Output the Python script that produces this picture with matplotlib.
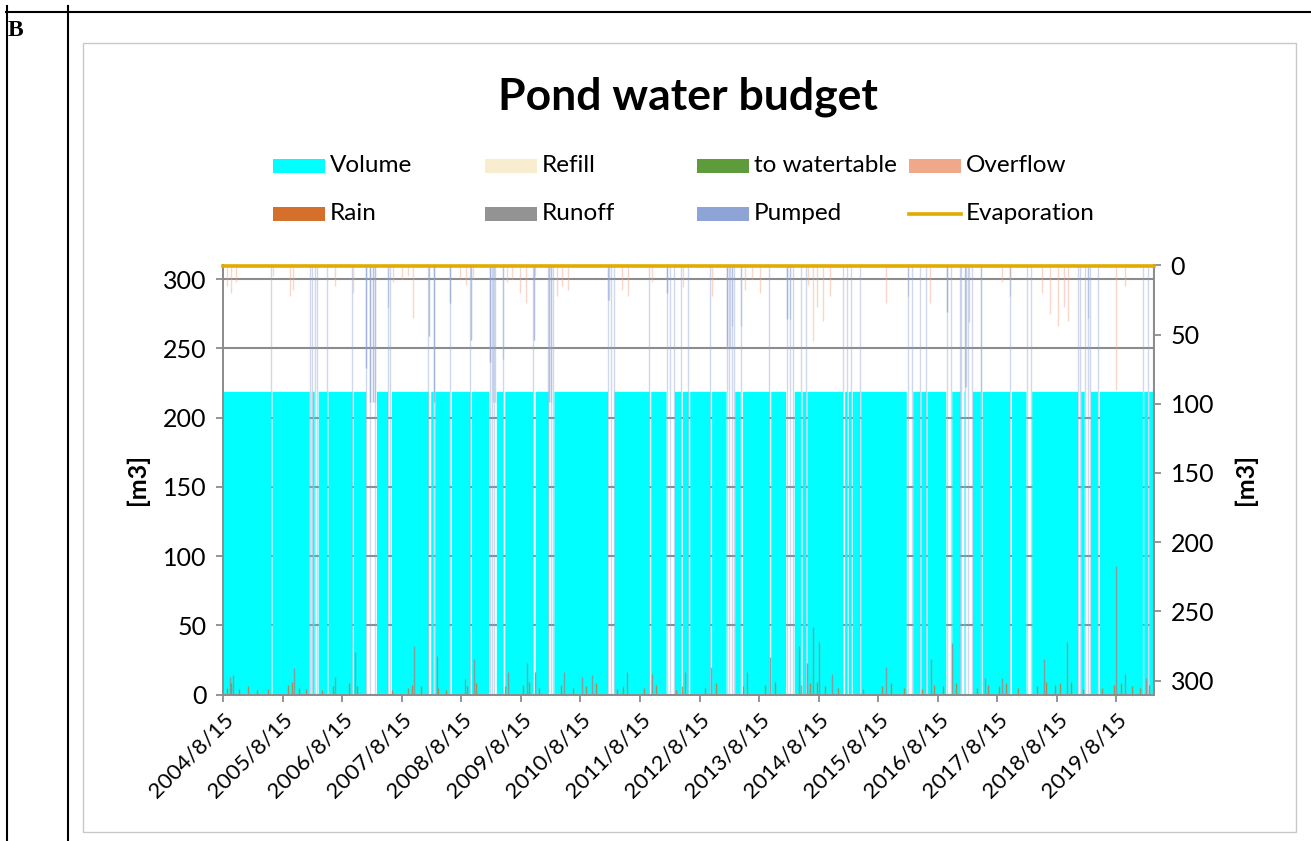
import numpy as np
import pandas as pd
import matplotlib
matplotlib.use('Agg')
import matplotlib.pyplot as plt
from matplotlib.patches import Rectangle
from matplotlib.lines import Line2D

plt.rcParams['font.family'] = ['Lato', 'DejaVu Sans']

# -------------------------- data --------------------------
start_date = '2004-08-15'
end_date = '2020-03-31'
full_volume = 219  # m3, pond volume when full

# periods when the pond is empty (start, number of days)
empty_start = ['2005-06-03', '2006-01-25', '2006-02-09', '2006-02-24', '2006-05-12', '2006-10-14',
               '2007-01-06', '2007-05-20', '2008-01-24', '2008-02-24', '2008-06-02', '2008-10-06',
               '2009-01-29', '2009-04-26', '2009-10-27', '2010-01-29', '2011-01-28', '2011-10-10',
               '2012-01-22', '2012-04-21', '2012-06-05', '2012-10-17', '2013-01-24', '2013-04-21',
               '2013-10-15', '2014-01-24', '2014-04-25', '2014-05-27', '2015-01-09', '2015-02-04',
               '2015-03-01', '2015-04-22', '2016-02-03', '2016-04-25', '2016-06-01', '2016-10-02',
               '2016-12-28', '2017-01-26', '2017-05-02', '2017-10-28', '2018-02-06', '2018-12-19',
               '2019-01-29', '2019-04-20', '2020-01-21', '2020-02-21', '2020-03-23']
empty_days = [8, 12, 5, 25, 8, 8,
              66, 24, 16, 10, 12, 10,
              47, 12, 14, 35, 40, 10,
              51, 10, 10, 10, 53, 14,
              10, 53, 10, 8, 12, 8,
              8, 8, 40, 8, 8, 37,
              25, 48, 12, 12, 35, 20,
              39, 12, 8, 8, 9]

# pumped (right axis, m3)
pump_dates = ['2005-06-05', '2006-01-27', '2006-02-11', '2006-02-27', '2006-03-14', '2006-05-14',
              '2006-10-16', '2007-01-06', '2007-01-08', '2007-01-10', '2007-01-30', '2007-02-01',
              '2007-02-03', '2007-02-20', '2007-02-22', '2007-03-04', '2007-03-06', '2007-05-23',
              '2007-05-25', '2007-06-06', '2008-01-26', '2008-01-28', '2008-01-30', '2008-02-26',
              '2008-02-28', '2008-03-01', '2008-06-04', '2008-06-06', '2008-06-08', '2008-10-08',
              '2008-10-10', '2008-10-12', '2009-02-04', '2009-02-06', '2009-02-08', '2009-02-20',
              '2009-02-22', '2009-03-04', '2009-03-06', '2009-04-28', '2009-04-30', '2009-10-31',
              '2009-11-02', '2009-11-04', '2010-01-31', '2010-02-02', '2010-02-04', '2010-02-16',
              '2010-02-18', '2010-03-02', '2011-01-30', '2011-02-01', '2011-02-03', '2011-02-19',
              '2011-03-08', '2011-10-12', '2012-01-26', '2012-01-28', '2012-01-30', '2012-02-15',
              '2012-03-11', '2012-04-23', '2012-06-07', '2012-10-19', '2013-01-28', '2013-01-30',
              '2013-02-01', '2013-02-12', '2013-02-14', '2013-02-27', '2013-03-01', '2013-03-14',
              '2013-04-23', '2013-04-25', '2013-10-17', '2014-01-31', '2014-02-02', '2014-02-04',
              '2014-02-20', '2014-02-22', '2014-03-12', '2014-04-27', '2014-05-29', '2015-01-11',
              '2015-02-06', '2015-03-03', '2015-04-24', '2016-02-11', '2016-02-13', '2016-03-07',
              '2016-04-27', '2016-06-03', '2016-10-07', '2016-10-09', '2016-10-11', '2016-11-03',
              '2016-12-28', '2017-01-02', '2017-01-28', '2017-01-30', '2017-02-01', '2017-02-18',
              '2017-02-20', '2017-03-09', '2017-05-04', '2017-05-06', '2017-10-30', '2017-11-01',
              '2018-02-10', '2018-03-06', '2018-12-21', '2019-01-06', '2019-02-02', '2019-02-20',
              '2019-02-22', '2019-03-04', '2019-04-22', '2020-01-23', '2020-02-23', '2020-03-25']
pump_m3 = [310, 310, 310, 310, 310, 310,
           310, 310, 74, 74, 310, 99,
           99, 99, 99, 310, 99, 310,
           30, 310, 310, 51, 51, 310,
           99, 99, 310, 27, 27, 310,
           54, 54, 310, 70, 70, 310,
           99, 310, 99, 310, 68, 310,
           54, 54, 310, 99, 99, 310,
           99, 310, 310, 25, 25, 310,
           310, 310, 310, 20, 20, 310,
           310, 310, 310, 310, 310, 59,
           59, 310, 59, 310, 44, 310,
           310, 44, 310, 310, 39, 39,
           310, 39, 310, 310, 310, 310,
           310, 310, 310, 310, 22, 310,
           310, 310, 310, 34, 34, 310,
           310, 310, 310, 88, 88, 310,
           41, 310, 310, 310, 310, 22,
           310, 310, 310, 310, 310, 310,
           38, 310, 310, 310, 310, 310]

# overflow (right axis, m3)
overflow_dates = ['2004-09-10', '2004-10-05', '2004-10-30', '2005-06-18', '2005-10-01', '2005-10-19',
                  '2006-07-02', '2006-10-20', '2007-06-20', '2007-08-17', '2007-09-23', '2007-10-23',
                  '2008-08-07', '2008-09-13', '2008-10-26', '2009-05-22', '2009-06-22', '2009-08-11',
                  '2009-09-16', '2009-11-10', '2010-03-24', '2010-04-23', '2010-05-30', '2011-04-27',
                  '2011-06-03', '2011-10-27', '2012-05-05', '2012-10-31', '2013-05-19', '2013-07-01',
                  '2013-08-19', '2014-06-11', '2014-07-10', '2014-08-04', '2014-09-09', '2014-10-22',
                  '2015-10-01', '2016-06-28', '2017-09-12', '2017-10-31', '2018-05-16', '2018-07-03',
                  '2018-08-21', '2018-09-27', '2018-10-23', '2019-08-12', '2019-10-05']
overflow_m3 = [15, 20, 12, 8, 22, 18,
               15, 20, 12, 10, 8, 38,
               10, 14, 10, 12, 10, 20,
               27, 8, 22, 15, 18, 18,
               22, 12, 16, 22, 18, 10,
               20, 14, 55, 30, 40, 22,
               27, 27, 12, 10, 20, 35,
               44, 30, 40, 90, 15]

# rain (left axis, m3)
rain_dates = ['2004-09-05', '2004-10-02', '2004-11-20', '2005-01-15', '2005-03-10', '2005-05-20',
              '2005-09-15', '2005-10-10', '2005-11-25', '2006-01-05', '2006-04-12', '2006-06-20',
              '2006-09-25', '2006-11-15', '2007-06-15', '2007-09-20', '2007-10-15', '2007-12-10',
              '2008-03-25', '2008-05-10', '2008-09-20', '2008-11-15', '2009-05-10', '2009-08-25',
              '2009-10-05', '2009-12-01', '2010-04-15', '2010-07-01', '2010-09-15', '2010-11-20',
              '2011-03-25', '2011-05-05', '2011-09-10', '2011-11-20', '2012-03-25', '2012-05-01',
              '2012-09-15', '2012-11-25', '2013-05-10', '2013-09-20', '2013-11-20', '2014-04-30',
              '2014-06-20', '2014-08-05', '2014-09-25', '2014-12-10', '2015-05-15', '2015-09-10',
              '2015-11-01', '2016-01-20', '2016-05-10', '2016-07-20', '2016-09-15', '2016-12-01',
              '2017-04-10', '2017-06-20', '2017-08-25', '2017-10-05', '2017-12-20', '2018-04-15',
              '2018-06-10', '2018-08-01', '2018-09-05', '2018-11-10', '2019-01-20', '2019-05-20',
              '2019-08-01', '2019-09-10', '2019-11-20', '2020-01-05', '2020-03-01']
rain_m3 = [5, 8, 4, 6, 3, 4,
           7, 9, 5, 4, 3, 6,
           8, 6, 3, 5, 7, 6,
           5, 3, 6, 8, 6, 7,
           9, 5, 7, 5, 6, 8,
           4, 6, 5, 7, 3, 6,
           5, 8, 6, 7, 9, 7,
           8, 9, 6, 5, 4, 6,
           8, 5, 4, 7, 6, 8,
           5, 7, 6, 8, 5, 6,
           9, 7, 8, 9, 4, 5,
           7, 8, 6, 5, 7]

# runoff (left axis, m3)
runoff_dates = ['2004-09-24', '2004-10-15', '2005-10-21', '2006-06-29', '2006-10-30', '2007-11-01',
                '2008-03-17', '2008-09-08', '2008-10-29', '2009-05-25', '2009-09-21', '2009-11-10',
                '2010-05-09', '2010-08-23', '2010-10-27', '2011-05-26', '2011-10-26', '2012-05-18',
                '2012-10-21', '2013-05-31', '2013-10-21', '2014-04-18', '2014-06-03', '2014-07-09',
                '2014-08-19', '2014-11-02', '2015-09-29', '2016-07-01', '2016-11-07', '2017-05-31',
                '2017-09-09', '2018-05-28', '2018-10-13', '2019-08-15', '2019-10-05', '2020-02-14']
runoff_m3 = [13, 14, 19, 13, 31, 35,
             28, 11, 26, 16, 23, 16,
             16, 13, 14, 16, 15, 16,
             20, 16, 27, 35, 23, 49,
             38, 15, 20, 26, 37, 12,
             12, 26, 38, 93, 15, 12]

# evaporation (right axis, m3)
evap_dates = [start_date, end_date]
evap_m3 = [0.5, 0.5]

tick_dates = pd.date_range('2004-08-15', '2019-08-15', freq=pd.DateOffset(years=1))

# -------------------------- colours --------------------------
c_volume = '#00FFFF'
c_refill = '#F8EDCF'
c_table = '#5E9B3A'
c_overflow = '#F0A88A'
c_rain = '#D4702C'
c_runoff = '#939393'
c_pumped = '#8FA4D6'
c_evap = '#E3AA00'
c_axis = '#8C8C8C'

# -------------------------- build daily volume --------------------------
days = pd.date_range(start_date, end_date, freq='D')
volume = np.full(len(days), float(full_volume))
for s, n in zip(pd.to_datetime(empty_start), empty_days):
    volume[(days >= s) & (days < s + pd.Timedelta(days=n))] = 0

# -------------------------- figure --------------------------
W, H = 1311, 841
fig = plt.figure(figsize=(W / 100, H / 100), dpi=100)

# page decorations
fig.add_artist(Line2D([7 / W, 7 / W], [0, 1 - 6 / H], color='black', lw=1.5))
fig.add_artist(Line2D([68 / W, 68 / W], [0, 1 - 6 / H], color='black', lw=1.5))
fig.add_artist(Line2D([6 / W, 1], [1 - 12 / H, 1 - 12 / H], color='black', lw=1.5))
fig.text(8 / W, 1 - 31 / H, 'B', family='Liberation Serif', fontweight='bold', fontsize=17,
         va='center', ha='left')
fig.add_artist(Rectangle((83 / W, 1 - 832 / H), (1296 - 83) / W, (832 - 43) / H,
                         transform=fig.transFigure, fill=False, ec='#C8C8C8', lw=1))

left, right, top, bottom = 223, 1154, 265.3, 694.5
ax = fig.add_axes([left / W, 1 - bottom / H, (right - left) / W, (bottom - top) / H])
ax2 = ax.twinx()

ax.fill_between(days, 0, volume, step='post', color=c_volume, lw=0, zorder=1)
ax.vlines(pd.to_datetime(runoff_dates), 0, runoff_m3, color=c_runoff, lw=1.0, alpha=0.9, zorder=3)
ax.vlines(pd.to_datetime(rain_dates), 0, rain_m3, color=c_rain, lw=1.0, alpha=0.8, zorder=3)

ax2.vlines(pd.to_datetime(pump_dates), 0, pump_m3, color=c_pumped, lw=1.0, alpha=0.42, zorder=2)
ax2.vlines(pd.to_datetime(overflow_dates), 0, overflow_m3, color=c_overflow, lw=1.0, alpha=0.45,
           zorder=2)
ax2.plot(pd.to_datetime(evap_dates), evap_m3, color=c_evap, lw=2.6, clip_on=False, zorder=5)

ax.set_xlim(pd.Timestamp('2004-08-14'), pd.Timestamp('2020-04-01'))
ax.set_ylim(0, 310)
ax2.set_ylim(310, 0)
ax.set_yticks(range(0, 301, 50))
ax2.set_yticks(range(0, 301, 50))
ax.set_xticks(tick_dates)
ax.set_xticklabels([f'{d.year}/{d.month}/{d.day}' for d in tick_dates], rotation=45,
                   ha='right', rotation_mode='anchor')

ax.set_axisbelow(True)
ax.yaxis.grid(True, color=c_axis, lw=1.5)

for a in (ax, ax2):
    a.spines['top'].set_visible(False)
    for s in ('left', 'right', 'bottom'):
        a.spines[s].set_color(c_axis)
        a.spines[s].set_linewidth(1.3)
    a.tick_params(direction='out', length=5, width=1.3, color=c_axis, labelsize=18,
                  labelcolor='black', pad=7)
ax.tick_params(axis='x', labelsize=16, pad=6)

ax.set_ylabel('[m3]', fontsize=18, fontweight='bold', labelpad=10)
ax2.set_ylabel('[m3]', fontsize=18, fontweight='bold', labelpad=14, rotation=90)

# title
fig.text(688 / W, 1 - 97 / H, 'Pond water budget', fontsize=32, fontweight='bold',
         ha='center', va='center')

# legend (drawn by hand to keep Excel's even column spacing)
legend_items = [('Volume', c_volume, 'patch'), ('Refill', c_refill, 'patch'),
                ('to watertable', c_table, 'patch'), ('Overflow', c_overflow, 'patch'),
                ('Rain', c_rain, 'patch'), ('Runoff', c_runoff, 'patch'),
                ('Pumped', c_pumped, 'patch'), ('Evaporation', c_evap, 'line')]
col_x = [273, 485, 697, 909]
row_y = [166, 214]
for i, (lab, col, kind) in enumerate(legend_items):
    x0 = col_x[i % 4]
    y0 = row_y[i // 4]
    if kind == 'patch':
        fig.add_artist(Rectangle((x0 / W, 1 - (y0 + 7) / H), 52 / W, 14 / H,
                                 transform=fig.transFigure, color=col, lw=0))
    else:
        fig.add_artist(Line2D([x0 / W, (x0 + 52) / W], [1 - y0 / H, 1 - y0 / H], color=col, lw=2.6))
    fig.text((x0 + 57) / W, 1 - y0 / H, lab, fontsize=17.5, ha='left', va='center')

plt.savefig('out.png', dpi=100)
